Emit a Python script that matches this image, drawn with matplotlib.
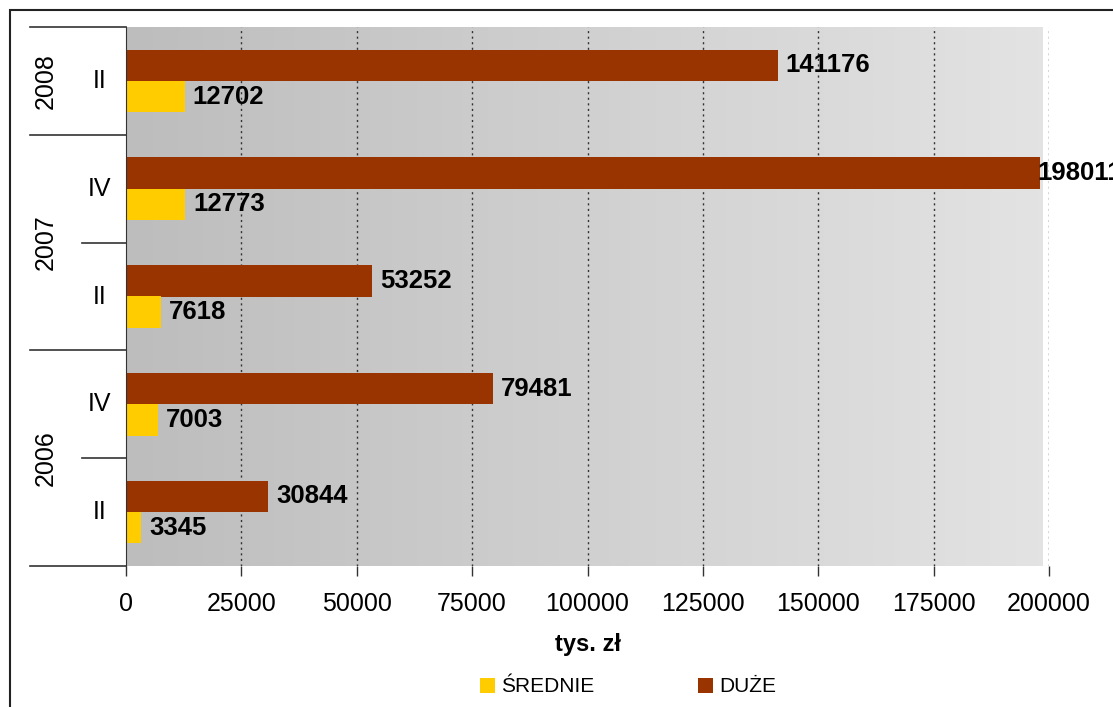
import matplotlib
matplotlib.use("Agg")
import matplotlib.pyplot as plt
import numpy as np
from matplotlib.patches import Rectangle, Patch
from matplotlib.lines import Line2D
import matplotlib.transforms as mtransforms
from matplotlib.colors import LinearSegmentedColormap

plt.rcParams['font.family'] = ['Liberation Sans', 'DejaVu Sans']

# Data (bottom to top)
years = ["2006", "2007", "2008"]
quarters = ["II", "IV", "II", "IV", "II"]
quarter_years = ["2006", "2006", "2007", "2007", "2008"]
srednie = [3345, 7003, 7618, 12773, 12702]
duze = [30844, 79481, 53252, 198011, 141176]
xticks = [0, 25000, 50000, 75000, 100000, 125000, 150000, 175000, 200000]

c_sred = "#FFCC00"
c_duze = "#993300"

W, H = 1113, 707
fig = plt.figure(figsize=(W / 100, H / 100), dpi=100)
ax = fig.add_axes([126 / W, 1 - 566 / H, (1049 - 126) / W, (566 - 27) / H])

n = len(quarters)
y = np.arange(n)
bh = 0.29

ax.set_xlim(0, 200000)
ax.set_ylim(-0.5, n - 0.5)

# gradient background
grad = np.linspace(0, 1, 256).reshape(1, -1)
cmap = LinearSegmentedColormap.from_list("g", ["#bdbdbd", "#e3e3e3"])
ax.imshow(grad, extent=[0, 198500, -0.5, n - 0.5], aspect='auto', cmap=cmap,
          zorder=0, interpolation='bilinear')

for xt in xticks[1:]:
    ax.axvline(xt, color="#333333", linestyle=(0, (1.5, 2.5)), linewidth=1.0, zorder=1)

ax.barh(y + bh / 2, duze, height=bh, color=c_duze, zorder=2)
ax.barh(y - bh / 2, srednie, height=bh, color=c_sred, zorder=2)

lab_fs = 18.5
for yi, v in zip(y, duze):
    off = 8 if v < 190000 else -2
    ax.annotate(str(v), (v, yi + bh / 2), xytext=(off, 0), textcoords='offset pixels',
                ha='left', va='center', fontsize=lab_fs, fontweight='bold', color='black',
                annotation_clip=False, zorder=3)
for yi, v in zip(y, srednie):
    ax.annotate(str(v), (v, yi - bh / 2), xytext=(8, 0), textcoords='offset pixels',
                ha='left', va='center', fontsize=lab_fs, fontweight='bold', color='black',
                annotation_clip=False, zorder=3)

ax.set_xticks(xticks)
ax.set_xticklabels([str(t) for t in xticks], fontsize=18)
ax.tick_params(axis='x', length=7, width=1, color='#333333', pad=12)
ax.set_yticks([])
for s in ['top', 'right']:
    ax.spines[s].set_visible(False)
ax.spines['left'].set_color('#333333')
ax.spines['bottom'].set_visible(False)

ax.set_xlabel("tys. zł", fontsize=17, fontweight='bold', labelpad=12)

# hierarchical category axis
trans = mtransforms.blended_transform_factory(ax.transAxes, ax.transData)
x_year = (30 - 126) / (1049 - 126)
x_q = (82 - 126) / (1049 - 126)
for yb in [-0.5, 1.5, 3.5, 4.5]:
    ax.add_line(Line2D([x_year, 0], [yb, yb], transform=trans, color='#333333',
                       linewidth=1.2, clip_on=False))
for yb in [0.5, 2.5]:
    ax.add_line(Line2D([x_q, 0], [yb, yb], transform=trans, color='#333333',
                       linewidth=1.2, clip_on=False))
for yi, q in zip(y, quarters):
    ax.text((100 - 126) / (1049 - 126), yi, q, transform=trans, ha='center', va='center',
            fontsize=18)
year_centers = {"2006": 0.5, "2007": 2.5, "2008": 4.0}
for yr, yc in year_centers.items():
    ax.text((46 - 126) / (1049 - 126), yc, yr, transform=trans, ha='center', va='center',
            rotation=90, fontsize=18)

# legend
handles = [Patch(facecolor=c_sred, edgecolor='none', label="ŚREDNIE"),
           Patch(facecolor=c_duze, edgecolor='none', label="DUŻE")]
fig.legend(handles=handles, loc='center', bbox_to_anchor=(628 / W, 1 - 687 / H), ncol=2,
           frameon=False, fontsize=15, handlelength=0.7, handleheight=0.7,
           handletextpad=0.3, columnspacing=5.0)

# figure border
fig.patches.append(Rectangle((10 / W, -0.5), 2, 0.5 + (1 - 10 / H), transform=fig.transFigure,
                             fill=False, edgecolor='#222222', linewidth=1.5))

fig.savefig("out.png", dpi=100)
